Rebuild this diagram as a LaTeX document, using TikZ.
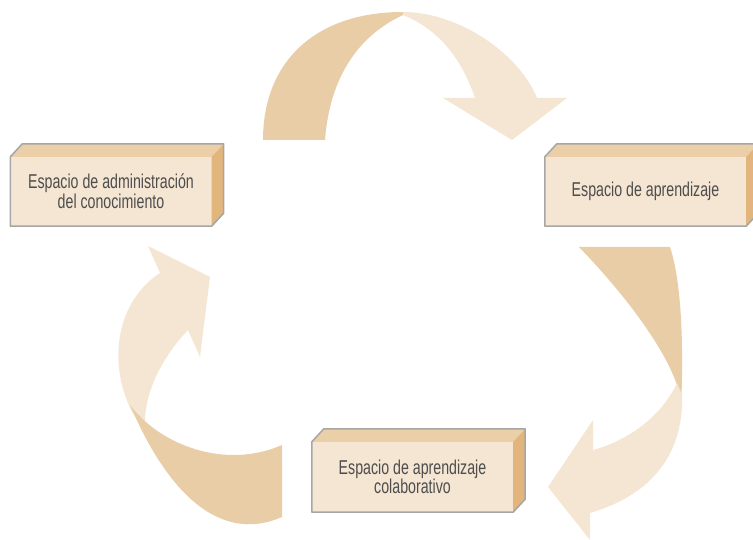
\documentclass[tikz,border=0pt]{standalone}
\usepackage{fontspec}
\usepackage{tikz,xcolor}
\usetikzlibrary{positioning}
\newfontfamily\boxfont[FakeStretch=0.71]{Liberation Sans}
\definecolor{frontcol}{RGB}{245,230,211}
\definecolor{topcol}{RGB}{234,207,168}
\definecolor{sidecol}{RGB}{225,181,124}
\definecolor{darkband}{RGB}{232,205,166}
\definecolor{lightband}{RGB}{245,230,212}
\definecolor{edgegray}{RGB}{166,166,166}
\definecolor{textgray}{RGB}{77,77,77}

\begin{document}
\begin{tikzpicture}[x=1pt,y=-1pt,
		espacio/.style={fill=frontcol,minimum width=201pt,minimum height=69pt,inner sep=0pt,align=center,text=textgray,font=\boxfont\fontsize{20}{18.5}\selectfont},
		back/.style={fill=darkband},
		front/.style={fill=lightband}]
		\useasboundingbox (0,0) rectangle (753,540);
		% arrow on top
		\fill[back] (263,140) .. controls (263,62) and (315,12) .. (403,12) -- (403,15) .. controls (360,35) and (330,75) .. (325,140) -- cycle;
		\fill[front] (403,12) .. controls (460,12) and (520,55) .. (537,98) -- (567,98) -- (512,140) -- (443,98) -- (475,98) .. controls (462,60) and (440,30) .. (403,15) -- cycle;
		% arrow on the right
		\fill[back] (579,247) .. controls (630,300) and (665,350) .. (677,385) -- (681,410) .. controls (684,340) and (681,280) .. (670,247) -- cycle;
		\fill[front] (677,383) .. controls (662,415) and (630,440) .. (593,450) -- (593,420) -- (548,487) -- (590,540) -- (590,513) .. controls (645,497) and (684,460) .. (682,395) -- cycle;
		% arrow on the left
		\fill[front] (145,430) -- (132,412) .. controls (106,360) and (118,300) .. (160,273) -- (148,246) -- (210,277) -- (200,357) -- (188,330) .. controls (160,360) and (143,395) .. (145,430) -- cycle;
		\fill[back] (282,445) -- (282,517) .. controls (230,540) and (175,510) .. (130,405) .. controls (160,445) and (225,470) .. (282,445) -- cycle;
		% boxes
		\node[espacio] (adm) at (111,191.5) {Espacio de administración\\del conocimiento};
		\node[espacio] (apr) at (645.5,191.5) {Espacio de aprendizaje};
		\node[espacio,minimum height=70pt] (col) at (412.5,477) {Espacio de aprendizaje\\colaborativo};
		\foreach \n in {adm,apr,col}{
			\fill[topcol] (\n.north west) -- ++(12,-13) -- ([shift={(12,-13)}]\n.north east) -- (\n.north east) -- cycle;
			\fill[sidecol] (\n.north east) -- ++(12,-13) -- ([shift={(12,-13)}]\n.south east) -- (\n.south east) -- cycle;
			\draw[edgegray,line width=1.5pt,line join=round] (\n.south west) -- (\n.north west) -- ++(12,-13) -- ([shift={(12,-13)}]\n.north east) -- ([shift={(12,-13)}]\n.south east) -- (\n.south east) -- cycle;
		}
	\end{tikzpicture}
\end{document}
